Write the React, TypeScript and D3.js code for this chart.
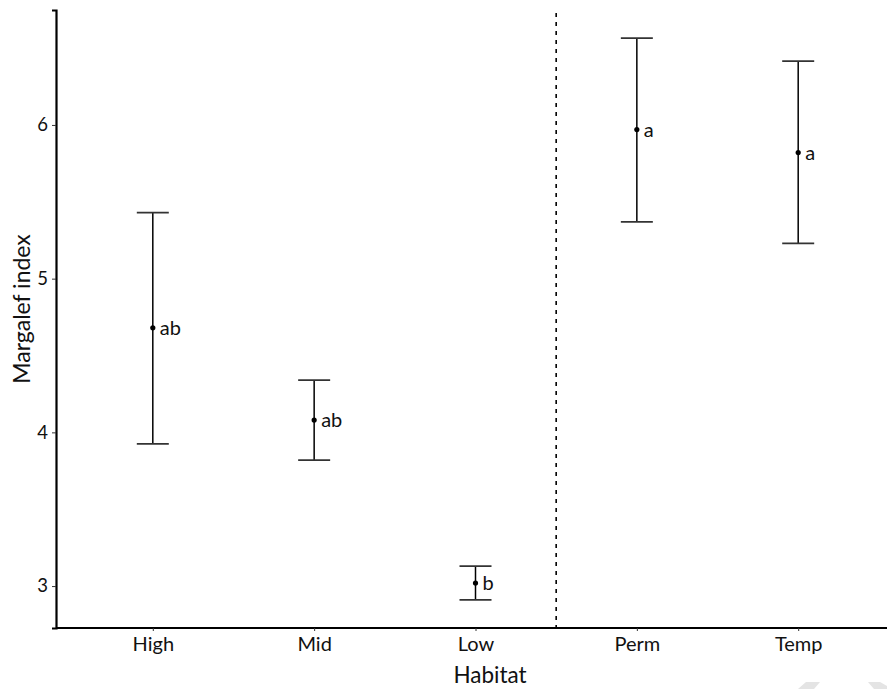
import { useRef, useEffect } from "react";
import * as d3 from "d3";

const habitats = ["High", "Mid", "Low", "Perm", "Temp"];
const means = [4.68, 4.08, 3.02, 5.97, 5.82];
const lowers = [3.925, 3.82, 2.91, 5.37, 5.23];
const uppers = [5.43, 4.34, 3.13, 6.565, 6.415];
const letters = ["ab", "ab", "b", "a", "a"];
const yTicks = [3, 4, 5, 6];

function App() {
  const svgRef = useRef<SVGSVGElement>(null);

  useEffect(() => {
    const w = 887;
    const h = 689;
    const left = 56;
    const top = 10;
    const bottom = 628;
    const font = "Lato, 'Open Sans', sans-serif";

    const svg = d3.select(svgRef.current);
    svg.selectAll("*").remove();

    // ggplot-like 5% expansion of the value range
    const lo = d3.min(lowers) as number;
    const hi = d3.max(uppers) as number;
    const pad = (hi - lo) * 0.05;

    const xScale = d3.scalePoint<string>().domain(habitats).range([left, 895]).padding(0.6);
    const yScale = d3.scaleLinear().domain([lo - pad, hi + pad]).range([bottom, top]);

    // axes
    const yAxis = d3.axisLeft(yScale).tickValues(yTicks).tickFormat(d3.format("d")).tickSize(4).tickPadding(4);
    const gy = svg.append("g").attr("transform", `translate(${left},0)`).call(yAxis);
    gy.select(".domain").attr("stroke", "#000").attr("stroke-width", 2.2);
    gy.selectAll(".tick line").attr("stroke", "#333").attr("stroke-width", 1);
    gy.selectAll(".tick text").attr("font-family", font).attr("font-size", 18.5).attr("fill", "#111");

    const xAxis = d3.axisBottom(xScale).tickSize(3).tickPadding(6);
    const gx = svg.append("g").attr("transform", `translate(0,${bottom})`).call(xAxis);
    gx.select(".domain").attr("stroke", "#000").attr("stroke-width", 2.2).attr("d", `M${left},0H${w}`);
    gx.selectAll(".tick line").attr("stroke", "#333").attr("stroke-width", 1);
    gx.selectAll(".tick text").attr("font-family", font).attr("font-size", 20).attr("fill", "#111");

    // dashed separator between altitude and permanence groups
    const sepX = ((xScale("Low") as number) + (xScale("Perm") as number)) / 2;
    svg
      .append("line")
      .attr("x1", sepX)
      .attr("x2", sepX)
      .attr("y1", top + 3)
      .attr("y2", bottom)
      .attr("stroke", "#000")
      .attr("stroke-width", 1.6)
      .attr("stroke-dasharray", "4,5");

    // error bars
    const g = svg.selectAll(".bar").data(habitats).enter().append("g");
    g.append("line")
      .attr("x1", (d) => xScale(d) as number)
      .attr("x2", (d) => xScale(d) as number)
      .attr("y1", (d, i) => yScale(lowers[i]))
      .attr("y2", (d, i) => yScale(uppers[i]))
      .attr("stroke", "#000")
      .attr("stroke-width", 1.5);
    [lowers, uppers].forEach((arr) => {
      g.append("line")
        .attr("x1", (d) => (xScale(d) as number) - 16)
        .attr("x2", (d) => (xScale(d) as number) + 16)
        .attr("y1", (d, i) => yScale(arr[i]))
        .attr("y2", (d, i) => yScale(arr[i]))
        .attr("stroke", "#333")
        .attr("stroke-width", 1.8);
    });
    g.append("circle")
      .attr("cx", (d) => xScale(d) as number)
      .attr("cy", (d, i) => yScale(means[i]))
      .attr("r", 2.6)
      .attr("fill", "#000");
    g.append("text")
      .attr("x", (d) => (xScale(d) as number) + 7)
      .attr("y", (d, i) => yScale(means[i]))
      .attr("dy", "0.35em")
      .attr("font-family", font)
      .attr("font-size", 20)
      .attr("fill", "#111")
      .text((d, i) => letters[i]);

    // axis titles
    svg
      .append("text")
      .attr("x", 490)
      .attr("y", 683)
      .attr("text-anchor", "middle")
      .attr("font-family", font)
      .attr("font-size", 22.5)
      .attr("fill", "#111")
      .text("Habitat");
    svg
      .append("text")
      .attr("transform", `translate(30,309) rotate(-90)`)
      .attr("text-anchor", "middle")
      .attr("font-family", font)
      .attr("font-size", 23)
      .attr("fill", "#111")
      .text("Margalef index");

    // faint watermark remnants in the corner
    svg
      .append("path")
      .attr("d", `M798,${h}L806,682L820,682L814,${h}Z M868,682L880,682L${w},686L${w},${h}L874,${h}Z`)
      .attr("fill", "#e4e4e4");
  }, []);

  return (
    <svg
      ref={svgRef}
      width={887}
      height={689}
      style={{ position: "absolute", left: 0, top: 0, background: "#fff" }}
    ></svg>
  );
}

export default App;
